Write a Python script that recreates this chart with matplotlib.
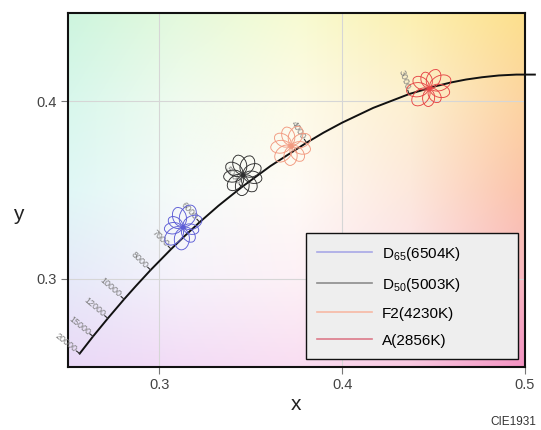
#!/usr/bin/env python3
"""CIE1931 chromaticity close-up: Planckian locus with standard illuminant rosettes."""

import numpy as np
import matplotlib
matplotlib.use('Agg')
import matplotlib.pyplot as plt
from matplotlib.colors import to_rgb
from matplotlib.patches import Ellipse
from matplotlib.lines import Line2D

plt.rcParams['font.family'] = ['Liberation Sans', 'DejaVu Sans']
plt.rcParams['mathtext.fontset'] = 'custom'
plt.rcParams['mathtext.rm'] = 'Liberation Sans'

# Planckian locus (CIE1931 x, y) by colour temperature
LOCUS_T = [20000, 15000, 12000, 10000, 9000, 8000, 7000, 6500, 6000, 5500,
           5000, 4500, 4000, 3800, 3600, 3300, 3000, 2800, 2700, 2600,
           2500, 2400, 2300, 2200]
LOCUS_X = [0.2564, 0.2637, 0.2718, 0.2807, 0.2870, 0.2952, 0.3064, 0.3135, 0.3220, 0.3323,
           0.3450, 0.3607, 0.3805, 0.3898, 0.3999, 0.4170, 0.4366, 0.4514, 0.4593, 0.4677,
           0.4765, 0.4857, 0.4953, 0.5054]
LOCUS_Y = [0.2576, 0.2673, 0.2775, 0.2883, 0.2956, 0.3048, 0.3166, 0.3237, 0.3318, 0.3411,
           0.3516, 0.3635, 0.3767, 0.3824, 0.3880, 0.3964, 0.4042, 0.4087, 0.4107, 0.4124,
           0.4137, 0.4147, 0.4152, 0.4152]
LABEL_T = [20000, 15000, 12000, 10000, 8000, 7000, 6000, 5000, 4000, 3000]

# illuminants
ILLUM_LABELS = ['D$_\\mathrm{65}$(6504K)', 'D$_\\mathrm{50}$(5003K)', 'F2(4230K)', 'A(2856K)']
ILLUM_X = [0.3127, 0.3457, 0.3721, 0.4476]
ILLUM_Y = [0.3290, 0.3585, 0.3751, 0.4074]
ROSETTE_COLORS = ['#5c5cd6', '#2e2e2e', '#f29a80', '#e64646']
ROSETTE_STRETCH = [0.2, 0.05, 0.06, 0.16]
ROSETTE_TILT = [40, 60, 20, 0]
LEGEND_COLORS = ['#a8a8e6', '#8c8c8c', '#f7b8a4', '#dc7a8a']

# background tint, rows top (y=0.45) -> bottom (y=0.25), cols left (x=0.25) -> right (x=0.5)
BG_COLORS = [['#cdf5de', '#e4f9dc', '#f7fbd2', '#fcf0b0', '#fde08c'],
             ['#d8f7ec', '#f0fbef', '#fdfbe8', '#fdf0d0', '#fdd4a0'],
             ['#e0f7f6', '#f6fbf9', '#fffbf6', '#fde8dc', '#fbc3aa'],
             ['#e6eaf9', '#f6f2fb', '#fdf1f6', '#fbe0ea', '#f8b8c0'],
             ['#ead9f7', '#f3dcf6', '#f9def2', '#f8c8e0', '#f392c2']]


def rosette(ax, cx, cy, color, stretch, tilt, size=0.0105, n=9):
    # pinwheel of looping petals, each an ellipse touching the centre
    for k in range(n):
        ang = 360.0 * k / n
        a = np.deg2rad(ang)
        L = size * (1 + stretch * np.cos(2 * (a - np.deg2rad(tilt))))
        ox = cx + 0.5 * L * np.cos(a) - 0.25 * L * np.sin(a)
        oy = cy + 0.5 * L * np.sin(a) + 0.25 * L * np.cos(a)
        ax.add_patch(Ellipse((ox, oy), L, L * 0.68, angle=ang + 26,
                             fill=False, ec=color, lw=0.65, zorder=4))
    ax.plot(cx, cy, 'o', color=color, ms=2, zorder=5)


fig = plt.figure(figsize=(5.41, 4.30), dpi=100)
ax = fig.add_axes([0.1257, 0.1465, 0.8447, 0.8233])

bg = np.array([[to_rgb(c) for c in row] for row in BG_COLORS])
ax.imshow(bg, extent=(0.21875, 0.53125, 0.225, 0.475), origin='upper',
          interpolation='bilinear', aspect='auto', zorder=0)
ax.set_xlim(0.25, 0.5)
ax.set_ylim(0.25, 0.45)
ax.set_xticks([0.3, 0.4, 0.5])
ax.set_yticks([0.3, 0.4])
ax.set_xticklabels(['0.3', '0.4', '0.5'])
ax.set_yticklabels(['0.3', '0.4'])
ax.grid(True, color='#d6d6d6', lw=0.8, zorder=1)
ax.tick_params(direction='out', length=5, width=0.8, color='#777777',
               labelcolor='#444444', labelsize=10.5, pad=3)
for sp in ax.spines.values():
    sp.set_linewidth(1.5)
    sp.set_color('#111111')

# locus
ax.plot(LOCUS_X, LOCUS_Y, color='#111111', lw=1.4, zorder=3, clip_on=False)

# temperature ticks and labels, perpendicular to the locus
trans = ax.transData
inv = trans.inverted()
for T in LABEL_T:
    i = LOCUS_T.index(T)
    p = trans.transform((LOCUS_X[i], LOCUS_Y[i]))
    j0, j1 = max(i - 1, 0), min(i + 1, len(LOCUS_T) - 1)
    p0 = trans.transform((LOCUS_X[j0], LOCUS_Y[j0]))
    p1 = trans.transform((LOCUS_X[j1], LOCUS_Y[j1]))
    t = (p1 - p0) / np.hypot(*(p1 - p0))
    nrm = np.array([-t[1], t[0]])
    a, b = inv.transform(p), inv.transform(p + 4 * nrm)
    ax.plot([a[0], b[0]], [a[1], b[1]], color='#333333', lw=0.8, zorder=3)
    rot = np.degrees(np.arctan2(-t[0], t[1]))
    off = 5 * nrm * 0.72
    ax.annotate(str(T), xy=(LOCUS_X[i], LOCUS_Y[i]), xytext=(off[0], off[1]),
                textcoords='offset points', rotation=rot, rotation_mode='anchor',
                ha='right', va='center', fontsize=6.5, color='#7a7a7a', zorder=3)

for x, y, c, s, tl in zip(ILLUM_X, ILLUM_Y, ROSETTE_COLORS, ROSETTE_STRETCH, ROSETTE_TILT):
    rosette(ax, x, y, c, s, tl)

handles = [Line2D([], [], color=c, lw=1.2) for c in LEGEND_COLORS]
leg = ax.legend(handles, ILLUM_LABELS, loc='lower left',
                bbox_to_anchor=(0.5208, 0.0226, 0.4639, 0.35), mode='expand',
                fontsize=11, labelspacing=0.85, borderpad=0.75, handlelength=3.6,
                handletextpad=0.6, borderaxespad=0, fancybox=False, framealpha=1)
leg.get_frame().set_facecolor('#eeeeee')
leg.get_frame().set_edgecolor('#111111')
leg.get_frame().set_linewidth(1.0)
leg.set_zorder(6)

fig.text(18 / 541, 1 - 215 / 430, 'y', fontsize=15, color='#222222', ha='center', va='center')
fig.text(296 / 541, 1 - 405 / 430, 'x', fontsize=15, color='#222222', ha='center', va='center')
fig.text(513 / 541, 1 - 422 / 430, 'CIE1931', fontsize=8.5, color='#333333', ha='center', va='center')

fig.savefig('out.png', dpi=100)
